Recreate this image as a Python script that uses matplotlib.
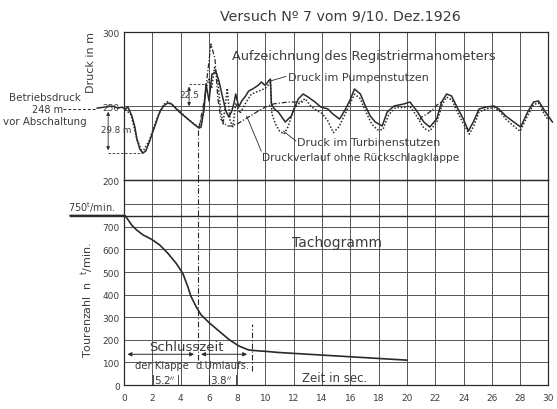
import matplotlib.pyplot as plt
import numpy as np

plt.rcParams['font.family'] = ['DejaVu Sans']

# Druck (m) ueber Zeit (s)
t_pumpe = [-1.89, -1.33, -0.84, -0.42, -0.14, 0.07, 0.28, 0.56, 0.77, 0.91, 1.12, 1.33, 1.54,
           1.82, 2.03, 2.31, 2.52, 2.80, 3.08, 3.36, 3.64, 3.92, 4.34, 4.76, 5.10, 5.31, 5.45,
           5.66, 5.80, 6.01, 6.22, 6.50, 6.71, 6.92, 7.20, 7.41, 7.62, 7.76, 7.90, 8.11, 8.32,
           8.60, 8.81, 9.09, 9.30, 9.51, 9.72, 9.93, 10.07, 10.21, 10.35, 10.42, 10.63, 10.91,
           11.40, 11.82, 12.31, 12.66, 13.01, 13.50, 13.92, 14.41, 14.76, 15.24, 15.66, 16.01,
           16.29, 16.71, 17.06, 17.41, 17.76, 18.25, 18.60, 19.09, 19.79, 20.21, 20.70, 21.19,
           21.61, 22.10, 22.45, 22.80, 23.15, 23.50, 23.99, 24.34, 24.69, 25.10, 25.59, 26.15,
           26.50, 26.99, 27.55, 28.04, 28.53, 28.95, 29.30, 29.79, 30.28]
p_pumpe = [248.6, 249.3, 250.0, 248.6, 249.3, 248.0, 249.3, 243.2, 235.8, 227.7, 220.9, 218.2,
           219.6, 226.4, 232.4, 239.9, 245.9, 250.0, 252.0, 251.4, 248.6, 245.9, 242.6, 239.2,
           236.5, 235.1, 235.8, 248.0, 264.9, 253.4, 271.6, 273.0, 266.9, 258.1, 246.6, 242.6,
           246.6, 251.4, 258.1, 249.3, 253.4, 256.8, 260.1, 261.5, 262.8, 264.2, 266.2, 264.2,
           264.9, 266.9, 268.2, 251.4, 248.0, 245.9, 239.2, 243.2, 254.7, 258.1, 256.1, 252.7,
           249.3, 248.0, 244.6, 241.2, 248.0, 254.7, 261.5, 258.1, 250.0, 243.2, 239.2, 236.5,
           245.9, 250.0, 251.4, 252.7, 246.6, 239.2, 235.8, 241.2, 252.7, 258.1, 256.8, 250.0,
           241.2, 233.1, 239.2, 248.0, 249.3, 250.0, 248.0, 243.2, 239.2, 235.8, 245.9, 252.7,
           253.4, 245.9, 239.2]

t_turbine = [-1.8, 0.07, 0.5, 0.9, 1.3, 1.8, 2.3, 2.8, 3.1, 3.6, 4.3, 4.8, 5.3, 5.6, 5.8, 6.0,
             6.2, 6.4, 6.6, 6.8, 7.0, 7.3, 7.5, 7.7, 7.9, 8.2, 8.6, 9.0, 9.5, 10.0, 10.35, 10.45,
             10.7, 11.0, 11.3, 11.6, 12.0, 12.4, 12.8, 13.2, 13.6, 14.0, 14.4, 14.8, 15.2, 15.6,
             16.0, 16.3, 16.7, 17.1, 17.5, 17.9, 18.3, 18.7, 19.2, 19.8, 20.2, 20.7, 21.2, 21.6,
             22.1, 22.5, 22.8, 23.2, 23.5, 24.0, 24.4, 24.7, 25.1, 25.6, 26.2, 26.6, 27.0, 27.6,
             28.0, 28.5, 28.95, 29.3, 29.8, 30.3]
p_turbine = [248.5, 248, 244, 228, 218.5, 227, 241, 251, 253, 249.5, 243, 239, 235.5, 245, 262,
             268, 262, 276, 270, 250, 238, 262, 240, 236, 252, 245, 252, 258, 260, 262, 266, 245,
             238, 233, 231, 236, 248, 252, 255, 250, 247, 245, 240, 232, 236, 244, 252, 258, 255,
             246, 238, 234, 234, 244, 249, 249, 250, 243, 235, 233, 239, 251, 256, 254, 247, 238,
             231, 236, 246, 248, 249, 246, 241, 236, 233, 243, 251, 252, 243, 237]

t_ohne = [5.3, 5.7, 6.15, 6.43, 6.64, 6.85, 7.27, 7.62, 8.11, 8.81, 9.37, 10.0, 10.56, 11.6,
          12.66, np.nan, 20.9, 21.05, 21.4, 21.75, 22.1, 22.45]
p_ohne = [235.5, 255, 291.9, 281.8, 254.7, 241.2, 236.5, 236.5, 238.5, 242.6, 245.9, 249.3,
          251.4, 252.7, 252.7, np.nan, 240.5, 242.6, 244.5, 247.0, 250.5, 253.0]

# Tachogramm: Drehzahl (U/min) ueber Zeit (s)
t_tacho = [-3.8, 0.0, 0.07, 0.30, 0.54, 0.89, 1.35, 1.94, 2.52, 3.10, 3.68, 4.15, 4.50, 4.73,
           5.08, 5.43, 6.01, 6.71, 7.41, 8.11, 8.81, 9.51, 10.21, 10.91, 20.0]
n_tacho = [750, 750, 750, 730, 708, 686, 664, 645, 620, 583, 539, 495, 437, 393, 349, 312, 276,
           239, 202, 173, 155, 151, 148, 144, 110]

x_ticks = list(range(0, 31, 2))
p_ticks = [200, 250, 300]
n_ticks = [0, 100, 200, 300, 400, 500, 600, 700]

ink = '#2a2a2a'
grey = '#555555'
txt = '#3c3c3c'
dashdot = (0, (5, 2, 1, 2))

fig = plt.figure(figsize=(5.57, 4.10), dpi=100)
fig.patch.set_facecolor('white')
ax1 = fig.add_axes([0.2226, 0.5585, 0.762, 0.361])
ax2 = fig.add_axes([0.2226, 0.0585, 0.762, 0.500])

for ax in (ax1, ax2):
    ax.set_xlim(0, 30)
    ax.set_xticks(x_ticks)
    ax.grid(True, axis='x', color=grey, lw=0.7)
    ax.tick_params(length=0, labelsize=6.5, labelcolor=txt, pad=3)
    ax.tick_params(axis='x', pad=6)
    for s in ax.spines.values():
        s.set_color(ink)
        s.set_linewidth(0.9)
    ax.set_facecolor('none')

#   Druck
ax1.set_ylim(200, 300)
ax1.set_yticks(p_ticks)
ax1.tick_params(labelbottom=False)
ax1.axhline(250, color=grey, lw=0.7)
ax1.axhline(247, color=grey, lw=0.7)
ax1.plot(t_pumpe, p_pumpe, color=ink, lw=1.1, clip_on=False)
ax1.plot(t_turbine, p_turbine, color=ink, lw=1.1, ls=(0, (1, 1.2)))
ax1.plot(t_ohne, p_ohne, color=ink, lw=0.9, ls=(0, (4, 1.5, 1, 1.5)))
ax1.axvline(5.2, 0, 0.35, color=ink, lw=0.8, ls=dashdot)

ax1.text(7.6, 283.8, 'Aufzeichnung des Registriermanometers', fontsize=9.3, color=txt, va='center')
ax1.text(11.6, 269.6, 'Druck im Pumpenstutzen', fontsize=8, color=txt, va='center')
ax1.plot([10.35, 11.45], [266.9, 270], color=ink, lw=0.6)
ax1.text(12.25, 225.7, 'Druck im Turbinenstutzen', fontsize=8, color=txt, va='center')
ax1.plot([11.26, 12.15], [233.1, 226.4], color=ink, lw=0.6)
ax1.text(9.75, 215.5, 'Druckverlauf ohne Rückschlagklappe', fontsize=7.6, color=txt, va='center')
ax1.plot([8.67, 9.7], [243.2, 219.6], color=ink, lw=0.6)
ax1.text(-2.3, 280.4, 'Druck in m', fontsize=8, color=txt, rotation=90, ha='center', va='center')

ax1.text(-5.6, 256.1, 'Betriebsdruck', fontsize=7.4, color=txt, ha='center', va='center', clip_on=False)
ax1.text(-5.4, 248.3, '248 m', fontsize=7, color=txt, ha='center', va='center', clip_on=False)
ax1.plot([-4.3, -1.9], [248.3, 248.3], color=ink, lw=0.7, ls=(0, (3, 2)), clip_on=False)
ax1.text(-5.6, 239.9, 'vor Abschaltung', fontsize=7.4, color=txt, ha='center', va='center', clip_on=False)

ax1.annotate('', xy=(-1.12, 218.2), xytext=(-1.12, 248), annotation_clip=False,
             arrowprops=dict(arrowstyle='<|-|>', color=ink, lw=0.6, mutation_scale=5))
ax1.plot([-1.12, 1.3], [218.2, 218.2], color=ink, lw=0.6, ls=(0, (3, 2)), clip_on=False)
ax1.text(-1.6, 234.0, '29.8 m', fontsize=6.3, color=txt, ha='left', va='center', clip_on=False)
ax1.annotate('', xy=(4.6, 265), xytext=(4.6, 248), annotation_clip=False,
             arrowprops=dict(arrowstyle='<|-|>', color=ink, lw=0.6, mutation_scale=5))
ax1.plot([4.6, 5.8], [265, 265], color=ink, lw=0.6, ls=(0, (3, 2)))
ax1.text(4.6, 257.5, '22.5', fontsize=6.5, color=txt, ha='center', va='center')

#   Tachogramm
ax2.set_ylim(0, 907)
ax2.set_yticks(n_ticks)
ax2.grid(True, axis='y', color=grey, lw=0.7)
ax2.axhline(800, color=grey, lw=0.7)
ax2.plot([-3.8, 30], [750, 750], color=ink, lw=1.0, clip_on=False)
ax2.plot(t_tacho, n_tacho, color=ink, lw=1.2, clip_on=False)
ax2.axvline(5.2, 0.12, 1, color=ink, lw=0.8, ls=dashdot)
ax2.axvline(9.05, 0.07, 0.3, color=ink, lw=0.8, ls=dashdot)

ax2.text(-2.3, 791, '750$^{\\rm t}$/min.', fontsize=7, color=txt, ha='center', va='center', clip_on=False)
ax2.text(-2.6, 378, 'Tourenzahl  n  $^{\\rm t}$/min.', fontsize=8, color=txt, rotation=90,
         ha='center', va='center', clip_on=False)
ax2.text(11.9, 633, 'Tachogramm', fontsize=10, color=txt, va='center')
ax2.text(4.4, 170, 'Schlusszeit', fontsize=9.5, color=txt, ha='center', va='center')
ax2.annotate('', xy=(0.05, 136), xytext=(5.15, 136),
             arrowprops=dict(arrowstyle='<|-|>', color=ink, lw=0.7, mutation_scale=6))
ax2.annotate('', xy=(5.25, 136), xytext=(8.9, 136),
             arrowprops=dict(arrowstyle='<|-|>', color=ink, lw=0.7, mutation_scale=6))
ax2.text(2.7, 88, 'der Klappe', fontsize=7.2, color=txt, ha='center', va='center')
ax2.text(2.9, 24, '5.2$^{\\prime\\prime}$', fontsize=7.5, color=txt, ha='center', va='center')
ax2.text(7.0, 88, 'd.Umlaufs.', fontsize=7.2, color=txt, ha='center', va='center')
ax2.text(6.85, 24, '3.8$^{\\prime\\prime}$', fontsize=7.5, color=txt, ha='center', va='center')
for tx in (2.05, 3.8, 6.0, 7.9):
    ax2.plot([tx, tx], [5, 45], color=ink, lw=0.6)
ax2.text(12.6, 35, 'Zeit in sec.', fontsize=8.5, color=txt, va='center')

fig.text(340 / 557, 1 - 17 / 410, 'Versuch Nº 7 vom 9/10. Dez.1926',
         fontsize=10.3, color=txt, ha='center', va='center')

plt.savefig('out.png', dpi=100)
